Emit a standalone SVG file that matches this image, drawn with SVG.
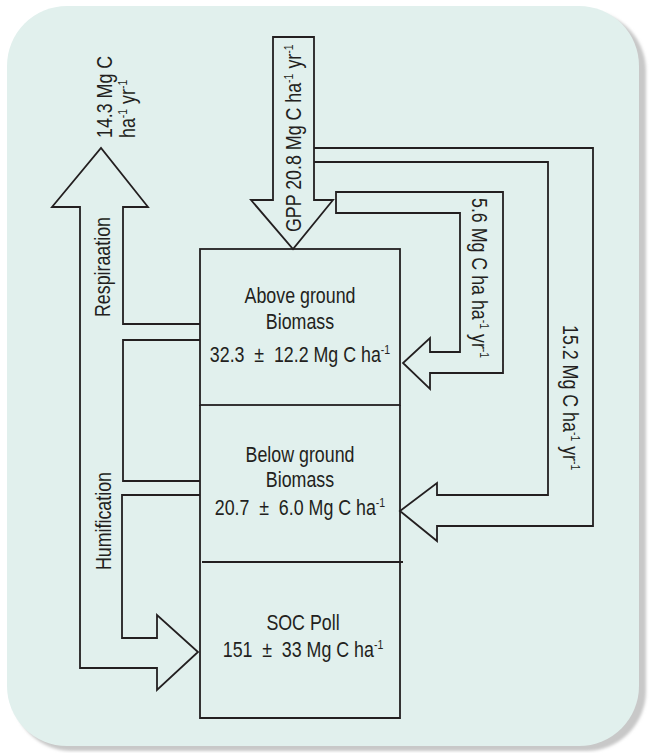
<svg xmlns="http://www.w3.org/2000/svg" width="650" height="753" viewBox="0 0 650 753">
<defs>
<filter id="blur" x="-5%" y="-5%" width="110%" height="110%"><feGaussianBlur stdDeviation="1.5"/></filter>
<style>
.ln{fill:none;stroke:#231f20;stroke-width:1.8;stroke-linejoin:miter}
.t{font-family:"Liberation Sans",Arial,sans-serif;font-size:22px;fill:#231f20}
.c{text-anchor:middle}
.sup{font-size:13px}
</style>
</defs>
<g id="background">
<rect x="12" y="11" width="634" height="740" rx="60" fill="#c8c8c8" filter="url(#blur)"/>
<rect x="7" y="6" width="632" height="740" rx="60" fill="#e1f0ed"/>
</g>
<g id="connectors">
<path id="gpp-arrow" class="ln" d="M273,37 H314 V200 H333 L293,249 L251,200 H273 Z"/>
<path id="npp-below-arrow" class="ln" d="M314,148 H593 V526 H437 V541 L400,511 L437,483 V495 H548 V162 H314"/>
<path id="npp-above-arrow" class="ln" d="M336,192 H503 V373 H430 V389 L403,363 L430,338 V352 H460 V213 H336 Z"/>
<path id="resp-humif-arrow" class="ln" d="M200,324 H123 V207 H148 L101,148 L52,207 H80 V668 H157 V690 L198,652 L157,615 V638 H122 V495 H200"/>
<path id="transfer-loop" class="ln" d="M200,340 H123 V481 H200"/>
</g>
<g id="labels">
<text class="t" transform="translate(112,138) rotate(-90) scale(0.81,1)">14.3 Mg C</text>
<text class="t" transform="translate(135,138) rotate(-90) scale(0.81,1)">ha<tspan class="sup" dy="-8">-1</tspan><tspan dy="8"> yr</tspan><tspan class="sup" dy="-8">-1</tspan></text>
<text class="t" transform="translate(301,232) rotate(-90) scale(0.81,1)">GPP 20.8 Mg C ha<tspan class="sup" dy="-8">-1</tspan><tspan dy="8"> yr</tspan><tspan class="sup" dy="-8">-1</tspan></text>
<text class="t" transform="translate(110,317) rotate(-90) scale(0.81,1)">Respiraation</text>
<text class="t" transform="translate(111,570) rotate(-90) scale(0.81,1)">Humification</text>
<text class="t" transform="translate(472,198) rotate(90) scale(0.81,1)">5.6 Mg C ha ha<tspan class="sup" dy="-8">-1</tspan><tspan dy="8"> yr</tspan><tspan class="sup" dy="-8">-1</tspan></text>
<text class="t" transform="translate(563,325) rotate(90) scale(0.81,1)">15.2 Mg C ha<tspan class="sup" dy="-8">-1</tspan><tspan dy="8"> yr</tspan><tspan class="sup" dy="-8">-1</tspan></text>
</g>
<g id="node-above">
<rect class="ln" x="200" y="249" width="200" height="156"/>
<text class="t c" transform="translate(300,303) scale(0.81,1)">Above ground</text>
<text class="t c" transform="translate(300,329) scale(0.81,1)">Biomass</text>
<text class="t c" transform="translate(300,362) scale(0.81,1)">32.3<tspan dx="6"> ±</tspan><tspan dx="6"> 12.2 Mg C ha</tspan><tspan class="sup" dy="-8">-1</tspan></text>
</g>
<g id="node-below">
<path class="ln" d="M200,405 V562 M400,405 V562 M202,562 H403"/>
<text class="t c" transform="translate(300,462) scale(0.81,1)">Below ground</text>
<text class="t c" transform="translate(300,487) scale(0.81,1)">Biomass</text>
<text class="t c" transform="translate(300,515) scale(0.81,1)">20.7<tspan dx="6"> ±</tspan><tspan dx="6"> 6.0 Mg C ha</tspan><tspan class="sup" dy="-8">-1</tspan></text>
</g>
<g id="node-soc">
<path class="ln" d="M200,562 V718 H400 V562"/>
<text class="t c" transform="translate(303,630) scale(0.81,1)">SOC Poll</text>
<text class="t c" transform="translate(303,657) scale(0.81,1)">151<tspan dx="6"> ±</tspan><tspan dx="6"> 33 Mg C ha</tspan><tspan class="sup" dy="-8">-1</tspan></text>
</g>
</svg>
